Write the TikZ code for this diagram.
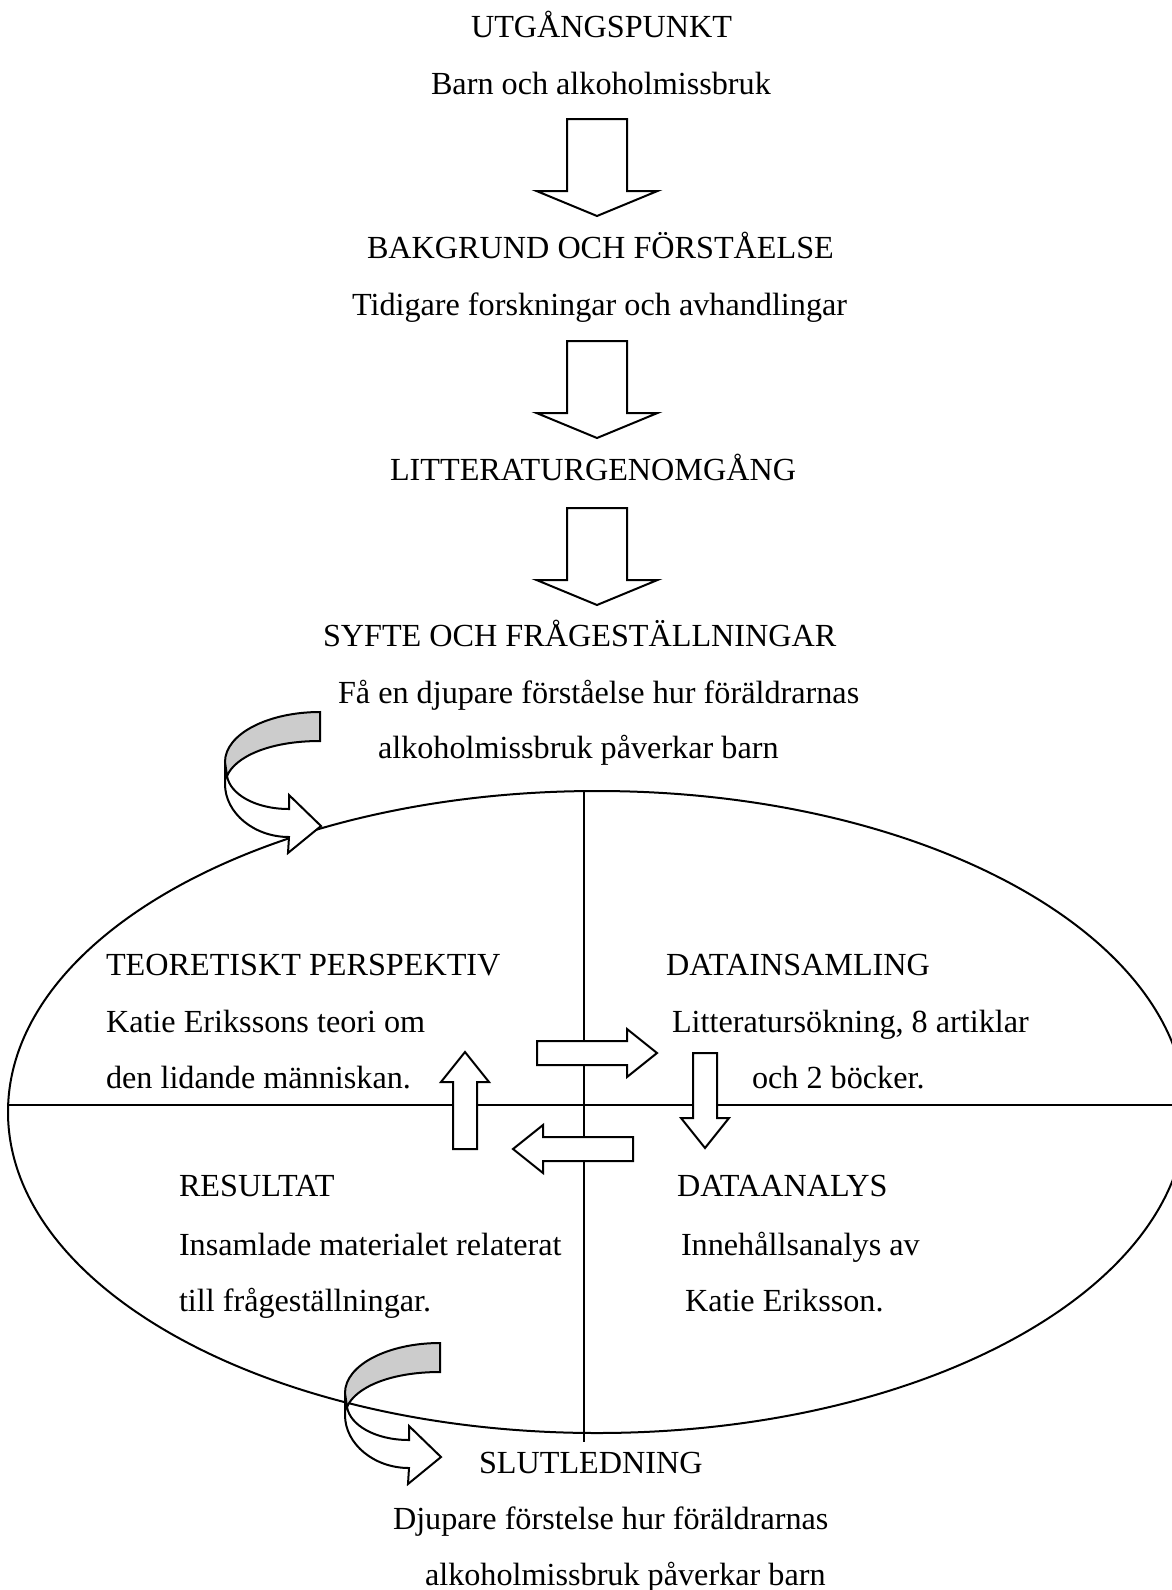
\documentclass[tikz,border=0pt]{standalone}
\usepackage{fontspec}
\setmainfont{Liberation Serif}
\usetikzlibrary{positioning}

\begin{document}
\begin{tikzpicture}[x=0.5pt,y=-0.5pt,line width=1pt,line join=miter,
  txt/.style={anchor=west,inner sep=0pt,text height=10.6pt,text depth=0pt,font=\fontsize{16.1}{19}\selectfont},
  blk/.style={draw,fill=white},
  band/.style={draw,fill=black!20}]
\useasboundingbox (0,0) rectangle (1172,1590);
\clip (0,0) rectangle (1172,1590);
\draw (597,1112) ellipse [x radius=589, y radius=321];
\draw (584,792)--(584,1442);
\draw (8,1105)--(1172,1105);
\foreach \y in {119,341,508}
  \draw[blk,shift={(597,\y)}] (-30,0)--(30,0)--(30,72)--(60.5,72)--(0,97)--(-60.5,72)--(-30,72)--cycle;
\foreach \x/\y/\r/\l in {657/1053/0/120, 465/1052/90/97, 705/1148/-90/95, 513/1149/180/120}
  \draw[blk,shift={(\x,\y)},rotate=\r] (0,0)--(-30,-24)--(-30,-12)--(-\l,-12)--(-\l,12)--(-30,12)--(-30,24)--cycle;
\foreach \p in {(320,712),(440,1343)}{
  \draw[blk,shift={\p}] (-95,50)--(-95,72) .. controls (-95,101) and (-66,125) .. (-31,125)--(-32,141)--(1,114)--(-31,83)--(-31,97) .. controls (-65,97) and (-90,82) .. (-93,64)--cycle;
  \draw[band,shift={\p}] (0,0) .. controls (-52,0) and (-95,22) .. (-95,50)--(-93,64) .. controls (-85,45) and (-51,29) .. (0,29)--cycle;
}
\node[txt] (start) at (470,27) {UTGÅNGSPUNKT};
\node[txt] (startsub) at (430,84) {Barn och alkoholmissbruk};
\node[txt] (bakgrund) at (366,248) {BAKGRUND OCH FÖRSTÅELSE};
\node[txt] (bakgrundsub) at (351,305) {Tidigare forskningar och avhandlingar};
\node[txt] (litt) at (389,470) {LITTERATURGENOMGÅNG};
\node[txt] (syfte) at (322,636) {SYFTE OCH FRÅGESTÄLLNINGAR};
\node[txt] (syfte1) at (337,693) {Få en djupare förståelse hur föräldrarnas};
\node[txt] (syfte2) at (377,748) {alkoholmissbruk påverkar barn};
\node[txt] (teori) at (105,965) {TEORETISKT PERSPEKTIV};
\node[txt] (teori1) at (105,1022) {Katie Erikssons teori om};
\node[txt] (teori2) at (105,1078) {den lidande människan.};
\node[txt] (datains) at (665,965) {DATAINSAMLING};
\node[txt] (datains1) at (671,1022) {Litteratursökning, 8 artiklar};
\node[txt] (datains2) at (751,1078) {och 2 böcker.};
\node[txt] (resultat) at (178,1186) {RESULTAT};
\node[txt] (resultat1) at (178,1245) {Insamlade materialet relaterat};
\node[txt] (resultat2) at (178,1301) {till frågeställningar.};
\node[txt] (dataanalys) at (676,1186) {DATAANALYS};
\node[txt] (dataanalys1) at (680,1245) {Innehållsanalys av};
\node[txt] (dataanalys2) at (684,1301) {Katie Eriksson.};
\node[txt] (slut) at (478,1463) {SLUTLEDNING};
\node[txt] (slut1) at (392,1519) {Djupare förstelse hur föräldrarnas};
\node[txt] (slut2) at (424,1575) {alkoholmissbruk påverkar barn};
\end{tikzpicture}
\end{document}
